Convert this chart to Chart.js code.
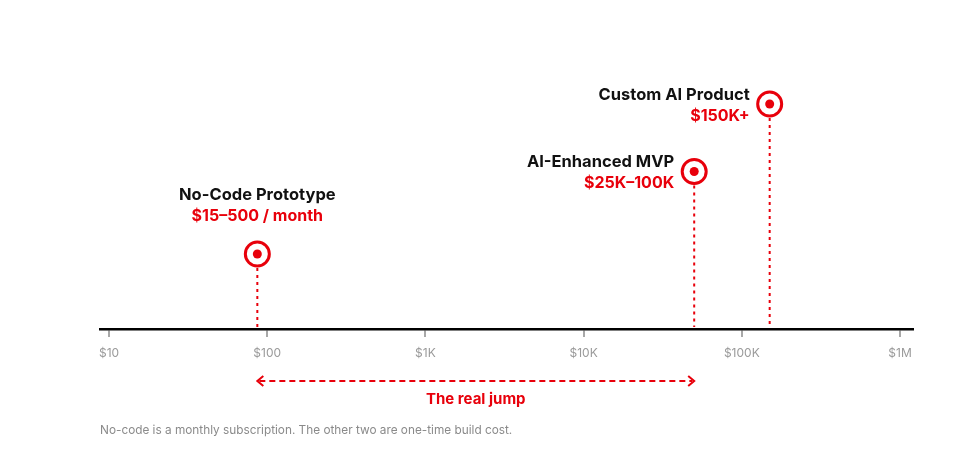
<!DOCTYPE html>
<html>
<head>
<meta charset="utf-8">
<script src="https://cdn.jsdelivr.net/npm/chart.js@4"></script>
<style>
  html, body { margin: 0; padding: 0; background: #fff; }
  #wrap { width: 954px; height: 463px; }
</style>
</head>
<body>
<div id="wrap"><canvas id="costChart"></canvas></div>
<script>
const names = ['No-Code Prototype', 'AI-Enhanced MVP', 'Custom AI Product'];
const priceLabels = ['$15\u2013500 / month', '$25K\u2013100K', '$150K+'];
const costs = [86.6, 50000, 150000];   // midpoint of each price range (log scale)
const levels = [1, 2.1, 3];            // vertical position of each marker
const tickValues = [10, 100, 1000, 10000, 100000, 1000000];
const tickLabels = ['$10', '$100', '$1K', '$10K', '$100K', '$1M'];

const RED = '#e8000b';
const FONT = 'Inter, "Noto Sans", sans-serif';

const points = costs.map((c, i) => ({ x: c, y: levels[i] }));

const overlay = {
    id: 'overlay',
    beforeDatasetsDraw(chart) {
        const { ctx, scales: { x, y } } = chart;
        const axisY = y.getPixelForValue(0);
        ctx.save();
        ctx.strokeStyle = RED;
        ctx.lineWidth = 2;
        ctx.setLineDash([3, 4]);
        points.forEach(p => {
            const px = x.getPixelForValue(p.x);
            const py = y.getPixelForValue(p.y);
            ctx.beginPath();
            ctx.moveTo(px, py + 14);
            ctx.lineTo(px, axisY - 2);
            ctx.stroke();
        });
        ctx.restore();
    },
    afterDraw(chart) {
        const { ctx, scales: { x, y } } = chart;
        ctx.save();
        // labels
        points.forEach((p, i) => {
            const px = x.getPixelForValue(p.x);
            const py = y.getPixelForValue(p.y);
            let tx, nameY, align;
            if (i === 0) {
                tx = px; align = 'center'; nameY = py - 59;
            } else {
                tx = px - 20; align = 'right'; nameY = py - 9;
            }
            ctx.textAlign = align;
            ctx.textBaseline = 'middle';
            ctx.fillStyle = '#111';
            ctx.font = 'bold 16.5px ' + FONT;
            ctx.fillText(names[i], tx, nameY);
            ctx.fillStyle = RED;
            ctx.font = 'bold 16px ' + FONT;
            ctx.fillText(priceLabels[i], tx, nameY + 21);
        });

        // "real jump" arrow
        const x1 = x.getPixelForValue(costs[0]);
        const x2 = x.getPixelForValue(costs[1]);
        const ay = 381;
        ctx.strokeStyle = RED;
        ctx.lineWidth = 2;
        ctx.setLineDash([6, 4]);
        ctx.beginPath();
        ctx.moveTo(x1 + 2, ay);
        ctx.lineTo(x2 - 2, ay);
        ctx.stroke();
        ctx.setLineDash([]);
        ctx.beginPath();
        ctx.moveTo(x1 + 6, ay - 5); ctx.lineTo(x1, ay); ctx.lineTo(x1 + 6, ay + 5);
        ctx.moveTo(x2 - 6, ay - 5); ctx.lineTo(x2, ay); ctx.lineTo(x2 - 6, ay + 5);
        ctx.stroke();
        ctx.fillStyle = RED;
        ctx.font = 'bold 15px ' + FONT;
        ctx.textAlign = 'center';
        ctx.textBaseline = 'middle';
        ctx.fillText('The real jump', (x1 + x2) / 2, 399);

        // footnote
        ctx.fillStyle = '#8a8a8a';
        ctx.font = '11.8px ' + FONT;
        ctx.textAlign = 'left';
        ctx.fillText('No-code is a monthly subscription. The other two are one-time build cost.', 100, 430);
        ctx.restore();
    }
};

new Chart(document.getElementById('costChart'), {
    type: 'scatter',
    data: {
        datasets: [{
            data: points,
            order: 1,
            pointRadius: 12,
            pointHoverRadius: 12,
            borderWidth: 3,
            borderColor: RED,
            backgroundColor: '#fff',
        }, {
            data: points,
            order: 0,
            pointRadius: 4.5,
            pointHoverRadius: 4.5,
            borderWidth: 0,
            backgroundColor: RED,
        }]
    },
    options: {
        responsive: true,
        maintainAspectRatio: false,
        animation: false,
        layout: { padding: { left: 100, right: 41, top: 29, bottom: 0 } },
        plugins: { legend: { display: false }, tooltip: { enabled: false } },
        scales: {
            x: {
                type: 'logarithmic',
                min: 8.77,
                max: 1208000,
                afterBuildTicks: s => { s.ticks = tickValues.map(v => ({ value: v })); },
                afterFit: s => { s.height = 134; },
                grid: {
                    drawOnChartArea: false,
                    drawTicks: true,
                    tickLength: 8,
                    color: '#a8a8a8',
                    lineWidth: 2,
                },
                border: { display: true, color: '#000', width: 2.5 },
                ticks: {
                    autoSkip: false,
                    maxRotation: 0,
                    padding: 9,
                    color: '#9a9a9a',
                    font: { family: FONT, size: 12 },
                    callback: (v, i) => tickLabels[i],
                }
            },
            y: {
                display: false,
                min: 0,
                max: 4,
            }
        }
    },
    plugins: [overlay]
});
</script>
</body>
</html>
